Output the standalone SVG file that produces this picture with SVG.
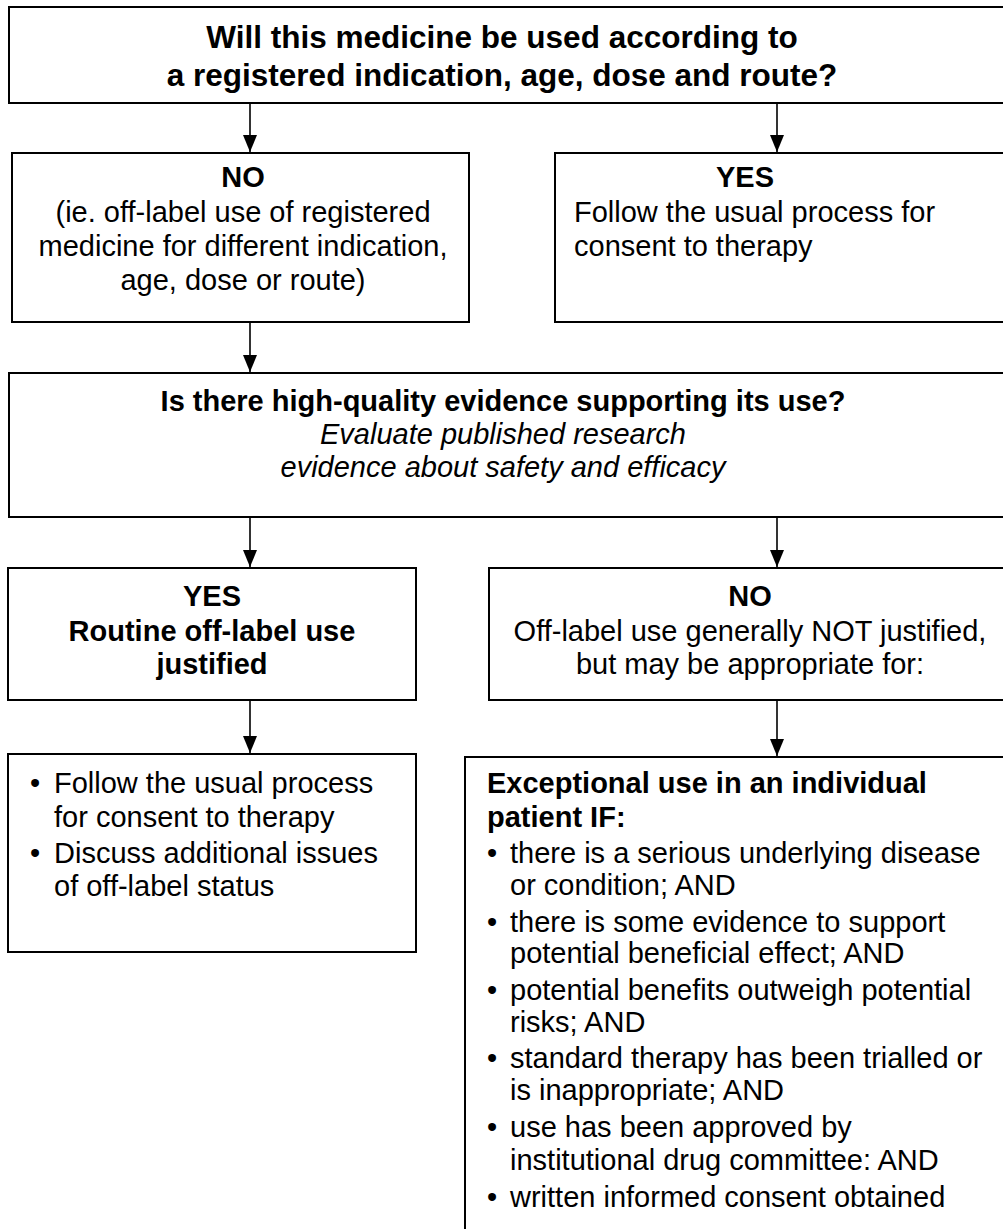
<svg xmlns="http://www.w3.org/2000/svg" width="1003" height="1229" viewBox="0 0 1003 1229">
<defs>
<marker id="ah" markerWidth="17" markerHeight="14" refX="17" refY="7" orient="auto" markerUnits="userSpaceOnUse" viewBox="0 0 17 14">
<path d="M0,0 L17,7 L0,14 Z" fill="#000"/>
</marker>
</defs>
<style>
.box{fill:#fff;stroke:#000;stroke-width:2}
text{font-family:"Liberation Sans",Arial,Helvetica,sans-serif;font-size:29px;fill:#000}
.b{font-weight:bold}
.i{font-style:italic}
.t{font-size:31.5px;font-weight:bold}
.c{text-anchor:middle}
.conn line{stroke:#000;stroke-width:1.6}
</style>
<rect width="1003" height="1229" fill="#fff"/>

<g id="connectors" class="conn">
<line x1="250" y1="103" x2="250" y2="152" marker-end="url(#ah)"/>
<line x1="777" y1="103" x2="777" y2="152" marker-end="url(#ah)"/>
<line x1="250" y1="322" x2="250" y2="372" marker-end="url(#ah)"/>
<line x1="250" y1="517" x2="250" y2="567" marker-end="url(#ah)"/>
<line x1="777" y1="517" x2="777" y2="567" marker-end="url(#ah)"/>
<line x1="250" y1="700" x2="250" y2="753" marker-end="url(#ah)"/>
<line x1="777" y1="700" x2="777" y2="756" marker-end="url(#ah)"/>
</g>

<g id="q1">
<rect class="box" x="9" y="7" width="1010" height="96"/>
<text class="t c" x="502" y="48">Will this medicine be used according to</text>
<text class="t c" x="502" y="86">a registered indication, age, dose and route?</text>
</g>

<g id="no1">
<rect class="box" x="12" y="153" width="457" height="169"/>
<text class="b c" x="243" y="187">NO</text>
<text class="c" x="243" y="222">(ie. off-label use of registered</text>
<text class="c" x="243" y="256">medicine for different indication,</text>
<text class="c" x="243" y="290">age, dose or route)</text>
</g>

<g id="yes1">
<rect class="box" x="555" y="153" width="460" height="169"/>
<text class="b c" x="745" y="187">YES</text>
<text x="574" y="222">Follow the usual process for</text>
<text x="574" y="256">consent to therapy</text>
</g>

<g id="q2">
<rect class="box" x="9" y="373" width="1010" height="144"/>
<text class="b c" x="503" y="411">Is there high-quality evidence supporting its use?</text>
<text class="i c" x="503" y="444">Evaluate published research</text>
<text class="i c" x="503" y="477">evidence about safety and efficacy</text>
</g>

<g id="yes2">
<rect class="box" x="8" y="568" width="408" height="132"/>
<text class="b c" x="212" y="606">YES</text>
<text class="b c" x="212" y="641">Routine off-label use</text>
<text class="b c" x="212" y="674">justified</text>
</g>

<g id="no2">
<rect class="box" x="489" y="568" width="530" height="132"/>
<text class="b c" x="750" y="606">NO</text>
<text class="c" x="750" y="641">Off-label use generally NOT justified,</text>
<text class="c" x="750" y="674">but may be appropriate for:</text>
</g>

<g id="routine">
<rect class="box" x="8" y="754" width="408" height="198"/>
<text x="30" y="793">•</text><text x="54" y="793">Follow the usual process</text>
<text x="54" y="827">for consent to therapy</text>
<text x="30" y="863">•</text><text x="54" y="863">Discuss additional issues</text>
<text x="54" y="896">of off-label status</text>
</g>

<g id="exceptional">
<rect class="box" x="465" y="757" width="560" height="500"/>
<text class="b" x="487" y="793">Exceptional use in an individual</text>
<text class="b" x="487" y="827">patient IF:</text>
<text x="487" y="863">•</text><text x="510" y="863">there is a serious underlying disease</text>
<text x="510" y="895">or condition; AND</text>
<text x="487" y="932">•</text><text x="510" y="932">there is some evidence to support</text>
<text x="510" y="963">potential beneficial effect; AND</text>
<text x="487" y="1000">•</text><text x="510" y="1000">potential benefits outweigh potential</text>
<text x="510" y="1032">risks; AND</text>
<text x="487" y="1068">•</text><text x="510" y="1068">standard therapy has been trialled or</text>
<text x="510" y="1100">is inappropriate; AND</text>
<text x="487" y="1137">•</text><text x="510" y="1137">use has been approved by</text>
<text x="510" y="1170">institutional drug committee: AND</text>
<text x="487" y="1207">•</text><text x="510" y="1207">written informed consent obtained</text>
</g>
</svg>
